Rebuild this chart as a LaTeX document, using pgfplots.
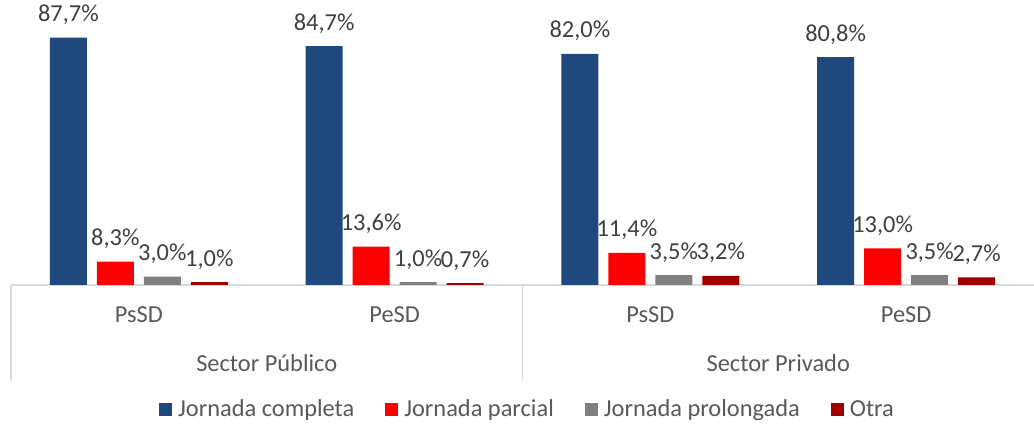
\documentclass[border=0pt]{standalone}
\usepackage{pgfplots}
\pgfplotsset{compat=1.18}
\usepackage{fontspec}
\setmainfont{Carlito}
\definecolor{cblue}{HTML}{1F497D}
\definecolor{cred}{HTML}{FF0000}
\definecolor{cgray}{HTML}{808080}
\definecolor{cdred}{HTML}{A00000}
\definecolor{txt}{HTML}{404040}
\definecolor{axtxt}{HTML}{595959}
\definecolor{axln}{HTML}{D9D9D9}
\begin{document}
\begin{tikzpicture}
\useasboundingbox (0,0) rectangle (517pt,213pt);
\begin{axis}[
  at={(5.5pt,70.5pt)}, anchor=south west,
  scale only axis, width=511.5pt, height=141pt,
  xmin=-0.5, xmax=3.5, ymin=0, ymax=100, enlargelimits=false,
  clip=false,
  ybar=5pt, bar width=18.5pt,
  axis x line*=bottom, axis y line=none,
  x axis line style={draw=axln, line width=0.6pt},
  xtick={0,1,2,3}, xticklabels={PsSD,PeSD,PsSD,PeSD},
  major tick length=0pt,
  xticklabel style={anchor=center, yshift=-15pt, font=\fontsize{12.2}{14}\selectfont, text=axtxt},
  /pgf/number format/assume math mode=true,
  nodes near coords={\pgfmathprintnumber[use comma,fixed,fixed zerofill,precision=1]{\pgfplotspointmeta}\%},
  every node near coord/.append style={anchor=base, yshift=8pt, inner sep=0pt, font=\fontsize{12.2}{14}\selectfont, text=txt},
  legend columns=-1,
  legend style={at={(axis description cs:0.5054,0)}, yshift=-62.5pt, anchor=center, draw=none,
    font=\fontsize{12.2}{14}\selectfont, text=axtxt, inner sep=0pt,
    nodes={inner sep=1.5pt},
    /tikz/every odd column/.append style={column sep=1.5pt},
    /tikz/every even column/.append style={column sep=14pt}},
]
\addplot[fill=cblue, draw=none, legend image code/.code={\fill[cblue] (0pt,-3.25pt) rectangle (6.5pt,3.25pt);}]
  coordinates {(0,87.7) (1,84.7) (2,82.0) (3,80.8)};
\addplot[fill=cred, draw=none, legend image code/.code={\fill[cred] (0pt,-3.25pt) rectangle (6.5pt,3.25pt);}]
  coordinates {(0,8.3) (1,13.6) (2,11.4) (3,13.0)};
\addplot[fill=cgray, draw=none, legend image code/.code={\fill[cgray] (0pt,-3.25pt) rectangle (6.5pt,3.25pt);}]
  coordinates {(0,3.0) (1,1.0) (2,3.5) (3,3.5)};
\addplot[fill=cdred, draw=none, legend image code/.code={\fill[cdred] (0pt,-3.25pt) rectangle (6.5pt,3.25pt);}]
  coordinates {(0,1.0) (1,0.7) (2,3.2) (3,2.7)};
\legend{Jornada completa, Jornada parcial, Jornada prolongada, Otra}
\draw[axln, line width=0.6pt] (axis cs:-0.5,0) -- ([yshift=-47.5pt]axis cs:-0.5,0);
\draw[axln, line width=0.6pt] (axis cs:1.5,0) -- ([yshift=-47.5pt]axis cs:1.5,0);
\node[text=axtxt, font=\fontsize{12.2}{14}\selectfont] at (axis cs:0.5,0) [yshift=-39pt] {Sector Público};
\node[text=axtxt, font=\fontsize{12.2}{14}\selectfont] at (axis cs:2.5,0) [yshift=-39pt] {Sector Privado};
\end{axis}
\end{tikzpicture}
\end{document}
